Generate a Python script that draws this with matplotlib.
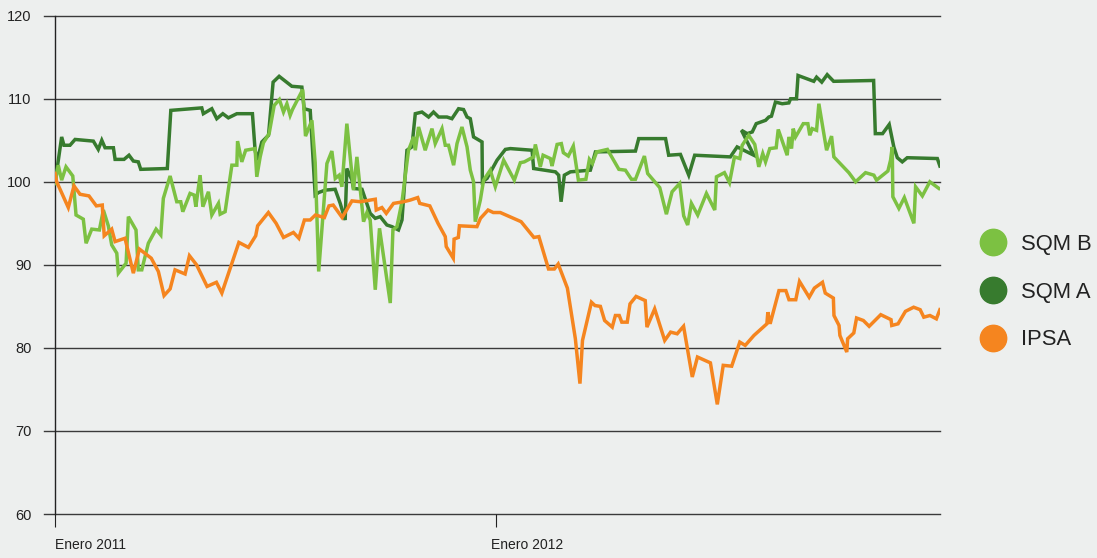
import matplotlib
matplotlib.use('Agg')
import matplotlib.pyplot as plt
from matplotlib.lines import Line2D
from matplotlib.transforms import ScaledTranslation

plt.rcParams['font.family'] = ['Liberation Sans', 'DejaVu Sans']

# dias desde el 1 de enero de 2011, indice base 100
sqm_a_dias = [0, 5.5, 7.4, 12.4, 16.6, 31.7, 35.8, 38.7, 41.4, 48.3, 49.7, 57.1, 61.2, 64.8, 68.9,
              70.9, 92.9, 95.8, 121.4, 122.7, 129.7, 133.8, 138.8, 143.4, 150.4, 163.3, 165.5, 167.2,
              171.1, 176.6, 180.4, 185.4, 195.9, 204.2, 206.1, 211.1, 215.2, 217.9, 223.5, 231.7,
              235.9, 240.0, 241.4, 245.6, 246.9, 253.9, 260.7, 264.9, 269.0, 274.5, 278.7, 284.1,
              287.0, 291.1, 295.2, 298.0, 303.5, 309.0, 313.1, 317.3, 324.2, 328.3, 333.8, 337.9,
              340.8, 343.5, 346.2, 353.2, 353.5, 357.3, 365.6, 372.5, 376.6, 394.6, 395.9, 413.9,
              416.6, 418.6, 421.3, 426.3, 442.8, 447.0, 480.1, 482.8, 505.0, 507.6, 517.3, 524.2,
              529.1, 558.6, 564.2, 578.0, 567.8, 572.5, 576.7, 580.0, 587.7, 590.4, 592.6, 595.9,
              601.5, 607.0, 608.4, 613.3, 614.6, 627.6, 629.9, 634.2, 638.7, 644.0, 677.1, 678.5,
              684.5, 690.0, 693.8, 696.7, 700.8, 704.9, 729.8, 731.9]
sqm_a = [99.8, 105.4, 104.4, 104.4, 105.1, 104.9, 103.9, 105.0, 104.1, 104.1, 102.7, 102.7, 103.2,
         102.5, 102.4, 101.5, 101.6, 108.6, 108.9, 108.2, 108.8, 107.6, 108.2, 107.7, 108.2, 108.2,
         103.8, 102.6, 104.8, 105.6, 112.0, 112.7, 111.5, 111.4, 108.8, 108.6, 98.4, 98.7, 99.0,
         99.1, 97.4, 95.4, 101.6, 100.2, 99.2, 99.1, 96.2, 95.6, 95.8, 94.8, 94.6, 94.2, 95.4,
         103.8, 104.2, 108.2, 108.4, 107.8, 108.4, 107.8, 107.8, 107.6, 108.8, 108.7, 107.8, 107.6,
         105.4, 104.8, 100.0, 100.4, 102.6, 103.9, 104.0, 103.8, 101.6, 101.2, 100.8, 97.6, 100.8,
         101.2, 101.4, 103.6, 103.7, 105.2, 105.2, 103.2, 103.3, 100.8, 103.2, 103.0, 104.2, 103.2,
         106.2, 105.8, 106.0, 107.0, 107.4, 107.8, 107.9, 109.6, 109.4, 109.5, 110.0, 110.0, 112.8,
         112.1, 112.6, 112.0, 112.9, 112.1, 112.2, 105.8, 105.8, 106.9, 104.2, 102.9, 102.4, 102.9,
         102.8, 101.9]

sqm_b_dias = [0, 2.7, 5.5, 9.1, 14.7, 17.4, 23.4, 25.7, 30.4, 36.7, 40.0, 44.1, 46.9, 51.1, 52.4,
              58.8, 60.7, 67.0, 68.9, 71.8, 77.2, 83.6, 87.5, 89.6, 95.2, 100.7, 104.0, 105.7, 111.7,
              115.1, 116.5, 120.0, 122.3, 126.9, 129.7, 135.2, 136.6, 140.7, 146.3, 150.4, 151.0,
              154.5, 157.7, 165.5, 166.9, 169.7, 172.4, 177.1, 181.3, 185.6, 189.0, 191.8, 194.5,
              196.4, 199.9, 204.9, 207.2, 212.5, 215.2, 218.1, 224.9, 229.0, 231.8, 235.1, 237.3,
              241.4, 246.9, 249.7, 255.2, 258.0, 260.7, 264.9, 268.4, 277.3, 279.5, 282.8, 287.0,
              292.4, 296.6, 298.0, 300.7, 306.2, 311.8, 314.5, 320.1, 322.8, 325.5, 329.7, 332.5,
              336.6, 340.8, 343.5, 346.2, 347.6, 351.8, 354.5, 360.0, 364.2, 371.1, 379.9, 384.9,
              388.2, 395.9, 397.3, 401.4, 403.7, 409.7, 411.1, 415.3, 418.8, 420.5, 424.6, 428.7,
              432.9, 439.1, 442.0, 444.5, 448.0, 456.9, 466.4, 471.8, 476.8, 480.1, 487.5, 490.2,
              500.2, 505.7, 510.4, 516.7, 520.0, 523.3, 526.4, 531.6, 538.8, 545.7, 547.1, 553.7,
              557.9, 562.0, 566.4, 568.4, 573.8, 578.8, 582.1, 585.4, 587.7, 591.2, 596.5, 598.2,
              605.6, 607.0, 609.2, 610.6, 612.5, 618.9, 622.7, 624.3, 626.3, 629.9, 631.8, 638.2,
              642.3, 644.2, 656.6, 662.2, 670.4, 677.3, 679.5, 688.9, 691.1, 692.5, 693.0, 698.0,
              702.5, 710.4, 711.8, 717.4, 723.6, 731.1]
sqm_b = [99.8, 102.0, 100.2, 101.8, 100.7, 96.0, 95.5, 92.6, 94.3, 94.2, 96.6, 94.7, 92.4, 91.4,
         89.0, 90.2, 95.8, 94.2, 89.4, 89.4, 92.6, 94.3, 93.6, 98.0, 100.7, 97.6, 97.6, 96.4, 98.6,
         98.4, 97.0, 100.8, 97.0, 98.8, 96.0, 97.4, 96.1, 96.4, 102.0, 102.0, 104.9, 102.4, 103.8,
         104.0, 100.6, 103.0, 104.7, 105.8, 109.2, 109.9, 108.4, 109.4, 108.0, 108.7, 109.7, 111.1,
         105.5, 107.4, 102.3, 89.2, 102.2, 103.7, 100.4, 100.8, 99.4, 107.0, 99.0, 103.0, 95.2,
         96.3, 95.4, 87.0, 94.4, 85.4, 94.2, 94.6, 97.6, 103.8, 105.4, 103.8, 106.6, 103.8, 106.4,
         104.6, 106.4, 104.4, 104.4, 102.0, 104.6, 106.6, 104.2, 101.4, 100.0, 95.2, 97.8, 100.2,
         101.4, 99.4, 102.6, 100.2, 102.3, 102.4, 103.0, 104.5, 101.8, 103.2, 102.8, 101.9, 104.5,
         104.6, 103.5, 103.1, 104.3, 100.2, 100.3, 102.7, 102.2, 103.6, 103.9, 101.5, 101.4, 100.3,
         100.3, 103.1, 101.0, 99.3, 96.1, 98.8, 99.8, 95.9, 94.8, 97.4, 96.0, 98.6, 96.6, 100.6,
         101.1, 99.9, 103.0, 102.8, 104.4, 105.6, 104.5, 101.8, 103.4, 102.4, 104.0, 104.1, 106.3,
         103.2, 105.4, 104.0, 106.4, 105.4, 107.0, 107.0, 105.6, 106.4, 106.2, 109.4, 103.8, 105.5,
         103.0, 101.1, 100.0, 101.1, 100.8, 100.2, 101.3, 102.6, 104.2, 98.2, 96.8, 98.1, 95.0, 99.4,
         98.3, 100.0, 99.2]

ipsa_dias = [0, 1.4, 11.0, 15.7, 20.7, 28.1, 34.2, 39.1, 40.7, 46.9, 49.7, 57.9, 64.8, 69.8, 79.6,
             85.5, 90.2, 95.2, 99.3, 107.6, 111.2, 117.1, 125.8, 133.5, 138.0, 152.1, 160.0, 166.0,
             167.6, 176.5, 182.9, 189.0, 197.2, 201.7, 206.3, 211.1, 215.4, 222.8, 226.6, 230.1,
             237.5, 245.6, 252.5, 264.9, 265.7, 270.4, 274.0, 280.0, 288.3, 293.8, 300.0, 301.7,
             310.0, 316.8, 322.8, 323.6, 329.4, 330.1, 333.6, 334.5, 349.0, 351.9, 358.2, 362.5,
             368.3, 385.5, 396.1, 400.2, 408.2, 413.0, 416.2, 423.8, 430.4, 434.2, 436.3, 443.7,
             446.6, 451.1, 454.6, 460.9, 463.5, 466.7, 468.8, 473.3, 475.6, 480.6, 488.2, 489.6,
             496.0, 504.3, 509.2, 514.6, 519.9, 527.1, 531.4, 542.1, 547.8, 552.7, 559.7, 566.4,
             570.9, 578.1, 588.8, 589.6, 591.5, 598.8, 604.5, 607.1, 612.7, 615.8, 623.8, 628.1,
             634.8, 637.1, 643.8, 644.3, 648.5, 649.2, 654.9, 655.6, 660.7, 663.0, 668.6, 673.4,
             683.0, 691.5, 692.1, 697.3, 703.4, 710.2, 715.6, 718.6, 723.7, 729.0, 731.9]
ipsa = [101.0, 100.0, 96.9, 99.5, 98.5, 98.3, 97.1, 97.2, 93.5, 94.3, 92.8, 93.2, 89.0, 91.9, 90.8,
        89.2, 86.3, 87.1, 89.4, 88.9, 91.1, 90.0, 87.4, 87.9, 86.6, 92.7, 92.1, 93.5, 94.7, 96.3,
        95.0, 93.3, 93.9, 93.2, 95.4, 95.4, 96.0, 95.7, 97.1, 97.2, 95.7, 97.7, 97.6, 97.9, 96.6,
        96.9, 96.2, 97.4, 97.6, 97.8, 98.1, 97.4, 97.1, 95.0, 93.4, 92.2, 90.8, 93.1, 93.3, 94.7,
        94.6, 95.6, 96.6, 96.3, 96.3, 95.2, 93.3, 93.4, 89.5, 89.5, 90.1, 87.2, 81.1, 75.7, 80.9,
        85.5, 85.1, 85.0, 83.3, 82.5, 83.9, 83.9, 83.1, 83.1, 85.3, 86.2, 85.7, 82.5, 84.7, 80.9,
        81.9, 81.7, 82.6, 76.5, 78.9, 78.2, 73.2, 77.9, 77.8, 80.7, 80.3, 81.5, 82.9, 84.3, 82.9,
        86.9, 86.9, 85.8, 85.8, 88.0, 86.1, 87.2, 87.9, 86.6, 86.0, 83.9, 82.7, 81.5, 79.5, 81.1,
        81.8, 83.6, 83.3, 82.6, 84.0, 83.4, 82.7, 82.9, 84.4, 84.9, 84.6, 83.7, 83.9, 83.5, 84.6]

series = ['SQM B', 'SQM A', 'IPSA']
colores = {'SQM B': '#7cc142', 'SQM A': '#377b2e', 'IPSA': '#f5851f'}

ticks_x = [0, 365]
etiquetas_x = ['Enero 2011', 'Enero 2012']
ticks_y = [60, 70, 80, 90, 100, 110, 120]

fondo = '#edefee'

fig = plt.figure(figsize=(10.97, 5.58), dpi=100, facecolor=fondo)
ax = fig.add_axes([55 / 1097, 1 - 514 / 558, 885 / 1097, (514 - 15.7) / 558])
ax.set_facecolor(fondo)

for y in ticks_y:
    ax.axhline(y, xmin=-11 / 885, xmax=1, color='#3a3a3a', lw=1.0, zorder=1, clip_on=False)

ax.plot(sqm_a_dias, sqm_a, color=colores['SQM A'], lw=2.5, zorder=3, solid_joinstyle='miter')
ax.plot(sqm_b_dias, sqm_b, color=colores['SQM B'], lw=2.5, zorder=4, solid_joinstyle='miter')
ax.plot(ipsa_dias, ipsa, color=colores['IPSA'], lw=2.5, zorder=5, solid_joinstyle='miter')

ax.set_xlim(0, 732)
ax.set_ylim(60, 120)

for s in ['top', 'right', 'bottom']:
    ax.spines[s].set_visible(False)
ax.spines['left'].set_color('#222222')
ax.spines['left'].set_linewidth(1.0)

ax.set_yticks(ticks_y)
ax.tick_params(axis='y', length=0, pad=17, labelsize=10.5, labelcolor='#222222')
ax.set_xticks(ticks_x)
ax.set_xticklabels(etiquetas_x, ha='left')
ax.tick_params(axis='x', direction='out', length=9.5, width=0.8, color='#222222',
               pad=8, labelsize=10, labelcolor='#222222')
for lab, dx in zip(ax.get_xticklabels(), [0, -5]):
    lab.set_transform(lab.get_transform() + ScaledTranslation(dx / 100, 0, fig.dpi_scale_trans))

handles = [Line2D([0], [0], marker='o', ls='', ms=19, color=colores[s]) for s in series]
fig.legend(handles, series, loc='center left', bbox_to_anchor=(982 / 1097, 1 - 292 / 558),
           frameon=False, fontsize=15.8, handlelength=1.0, handletextpad=0.77,
           labelspacing=1.22, borderpad=0, borderaxespad=0, labelcolor='#222222')

fig.savefig('out.png', dpi=100, facecolor=fondo)
